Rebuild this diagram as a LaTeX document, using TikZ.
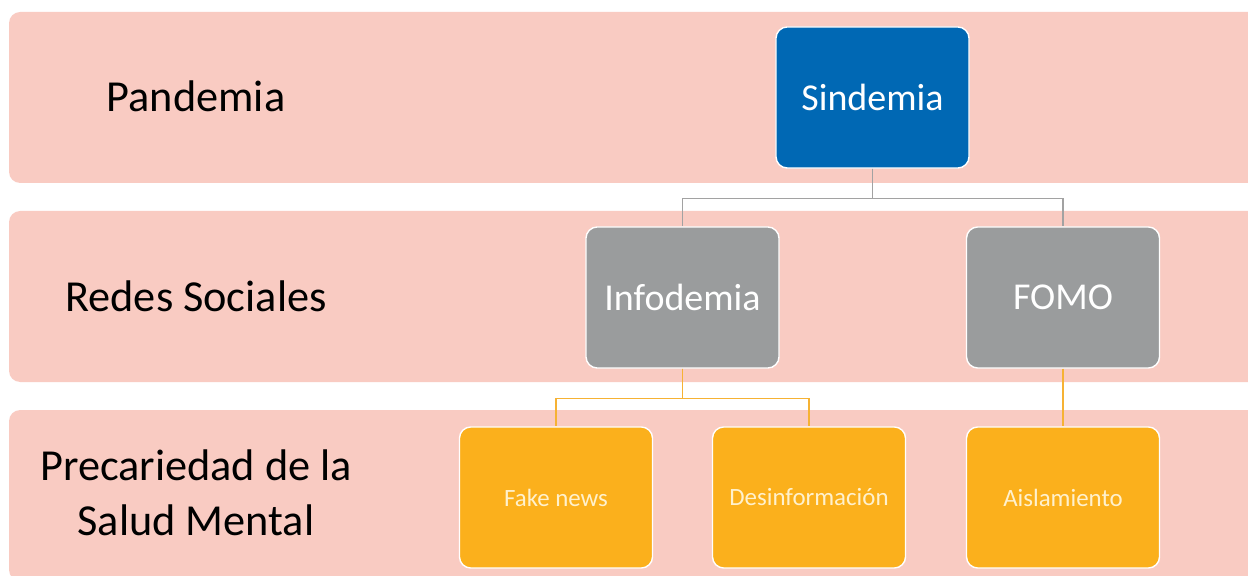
\documentclass[tikz,border=0pt]{standalone}
\usepackage{fontspec}
\setmainfont{Carlito}
\usepackage{xcolor}
\usepackage{tikz}
\definecolor{bandpink}{RGB}{249,203,194}
\definecolor{sindblue}{RGB}{0,104,180}
\definecolor{redgray}{RGB}{154,156,157}
\definecolor{saludorange}{RGB}{251,176,28}
\definecolor{linkgray}{RGB}{162,162,162}
\definecolor{linkorange}{RGB}{246,178,52}
\definecolor{creamtext}{RGB}{255,241,205}

\begin{document}
\begin{tikzpicture}[x=0.025cm, y=-0.025cm,
  level/.style={align=center, text=black, font=\fontsize{31.5}{39}\selectfont},
  card/.style={draw=white, line width=1pt, rounded corners=8pt, inner sep=0pt,
    minimum width=4.825cm, minimum height=3.525cm},
  bigcard/.style={card, font=\fontsize{27}{32}\selectfont, text=white},
  smallcard/.style={card, fill=saludorange, text=creamtext, font=\fontsize{17.7}{21}\selectfont},
  treelink/.style={line width=1pt}]
  \fill[white] (0,0) rectangle (1248,576);
  \useasboundingbox (0,0) rectangle (1248,576);
  \clip (0,0) rectangle (1248,576);
  % bands
  \foreach \i in {0,1,2} {
    \pgfmathsetmacro{\y}{12 + \i*199}
    \fill[bandpink, rounded corners=8pt] (9,\y) rectangle (1270,\y+171);
  }
  \node[level] (pand) at (196,96) {Pandemia};
  \node[level] (redes) at (196,296) {Redes Sociales};
  \node[level] (salud) at (196,493) {Precariedad de la\\Salud Mental};
  % cards
  \node[bigcard, fill=sindblue] (sind) at (872.5,97.5) {Sindemia};
  \node[bigcard, fill=redgray] (info) at (682.5,297.5) {Infodemia};
  \node[bigcard, fill=redgray] (fomo) at (1063,297.5) {FOMO};
  \node[smallcard] (fake) at (556,497.5) {Fake news};
  \node[smallcard] (desin) at (809,497.5) {Desinformación};
  \node[smallcard] (aisla) at (1063,497.5) {Aislamiento};
  % links
  \draw[treelink, linkgray] (sind.south) -- ++(0,30) -| (info.north);
  \draw[treelink, linkgray] (sind.south) -- ++(0,30) -| (fomo.north);
  \draw[treelink, linkorange] (info.south) -- ++(0,30) -| (fake.north);
  \draw[treelink, linkorange] (info.south) -- ++(0,30) -| (desin.north);
  \draw[treelink, linkorange] (fomo.south) -- (aisla.north);
\end{tikzpicture}
\end{document}
